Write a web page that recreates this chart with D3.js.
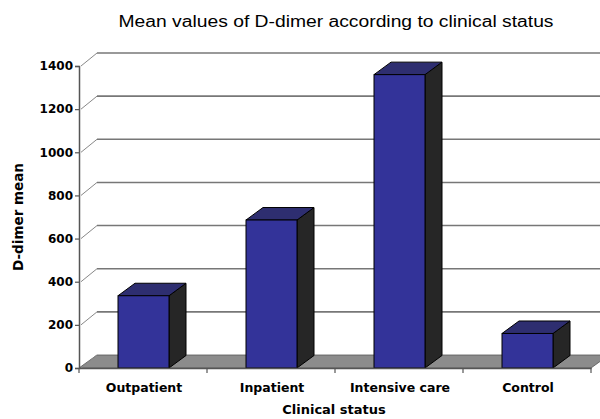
<!DOCTYPE html>
<html><head><meta charset="utf-8">
<script src="https://cdn.jsdelivr.net/npm/d3@7"></script>
<style>body{margin:0;background:#fff}svg{display:block}</style>
</head><body>
<script>
const categories = ["Outpatient","Inpatient","Intensive care","Control"];
const values = [335, 686, 1360, 160];
const yTicks = [0,200,400,600,800,1000,1200,1400];
const title = "Mean values of D-dimer according to clinical status";
const xTitle = "Clinical status";
const yTitle = "D-dimer mean";

const W=600,H=419;
const FB="'DejaVu Sans',Verdana,sans-serif";
const svg=d3.select("body").append("svg").attr("width",W).attr("height",H);
const x0=79,x1=591,yb=368,yt=66;
const dx=18,dy=-13; // depth of back wall
const bdx=17,bdy=-12.5; // bar depth
const x=d3.scaleBand().domain(categories).range([x0,x1]).paddingInner(0).paddingOuter(0);
const y=d3.scaleLinear().domain([0,1400]).range([yb,yt]);

// floor
svg.append("path").attr("d",`M${x0},${yb}L${x1},${yb}L${x1+dx},${yb+dy}L${x0+dx},${yb+dy}Z`)
 .attr("fill","#8c8c8c").attr("stroke","#555").attr("stroke-width",0.8);
// gridlines on back wall + diagonals
yTicks.forEach(t=>{
  if(t>0) svg.append("line").attr("x1",x0+dx).attr("x2",W).attr("y1",y(t)+dy).attr("y2",y(t)+dy)
    .attr("stroke","#777").attr("stroke-width",1.6);
  svg.append("line").attr("x1",x0+2).attr("y1",y(t)).attr("x2",x0+dx).attr("y2",y(t)+dy)
    .attr("stroke","#888").attr("stroke-width",1);
});
// bars
const bw=51, off=39;
const g=svg.append("g");
categories.forEach((c,i)=>{
  const bx=x(c)+off, top=y(values[i]);
  g.append("path").attr("d",`M${bx+bw},${yb}L${bx+bw+bdx},${yb+bdy}L${bx+bw+bdx},${top+bdy}L${bx+bw},${top}Z`)
   .attr("fill","#262626").attr("stroke","#000").attr("stroke-width",1);
  g.append("path").attr("d",`M${bx},${top}L${bx+bdx},${top+bdy}L${bx+bw+bdx},${top+bdy}L${bx+bw},${top}Z`)
   .attr("fill","#2e2e70").attr("stroke","#000").attr("stroke-width",1);
  g.append("rect").attr("x",bx).attr("y",top).attr("width",bw).attr("height",yb-top)
   .attr("fill","#333399").attr("stroke","#000").attr("stroke-width",1);
});
// y axis
const ya=svg.append("g").attr("transform",`translate(${x0},0)`)
 .call(d3.axisLeft(y).tickValues(yTicks).tickSize(4).tickPadding(2).tickFormat(d3.format("d")));
ya.select(".domain").attr("stroke","#555").attr("stroke-width",1.5);
ya.selectAll(".tick line").attr("stroke","#555").attr("stroke-width",1.2);
ya.selectAll("text").attr("font-family",FB).attr("font-weight","bold").attr("font-size",12).attr("fill","#000");
// x axis
const xa=svg.append("g").attr("transform",`translate(0,${yb})`)
 .call(d3.axisBottom(x).tickSize(0).tickPadding(15));
xa.select(".domain").attr("stroke","#555").attr("stroke-width",1.5);
xa.selectAll("text").attr("font-family",FB).attr("font-weight","bold").attr("font-size",12.5).attr("fill","#000").attr("dx",1);
// boundary ticks
[x0,...categories.map(c=>x(c)+x.bandwidth())].forEach(v=>{
  svg.append("line").attr("x1",v).attr("x2",v).attr("y1",yb).attr("y2",yb+5).attr("stroke","#555").attr("stroke-width",1.2);
});
// titles
svg.append("text").attr("x",336).attr("y",27).attr("text-anchor","middle")
 .attr("font-family","'Liberation Sans',Arial,sans-serif").attr("font-size",16)
 .attr("textLength",435).attr("lengthAdjust","spacingAndGlyphs").text(title);
svg.append("text").attr("x",334).attr("y",414).attr("text-anchor","middle")
 .attr("font-family",FB).attr("font-weight","bold").attr("font-size",13).text(xTitle);
svg.append("text").attr("transform","translate(23,217) rotate(-90)").attr("text-anchor","middle")
 .attr("font-family",FB).attr("font-weight","bold").attr("font-size",13.5).text(yTitle);
</script>
</body></html>
